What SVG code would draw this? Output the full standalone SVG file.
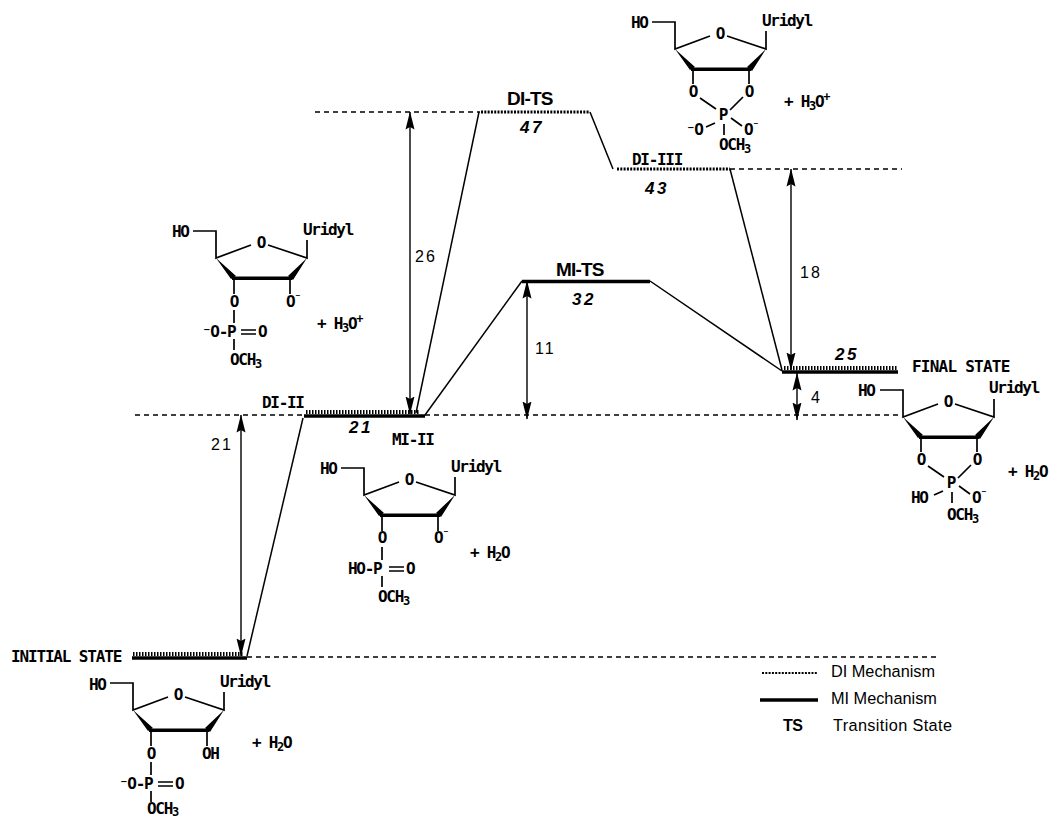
<svg xmlns="http://www.w3.org/2000/svg" width="1051" height="819" viewBox="0 0 1051 819">
<style>
text{font-family:"DejaVu Sans Mono","Liberation Mono",monospace;font-weight:700;font-size:16px;letter-spacing:-1.3px;fill:#000}
.ctr{text-anchor:middle}
.sub{font-size:12px}
.num{font-family:"Liberation Sans",Arial,sans-serif;font-weight:400;font-size:16px;letter-spacing:2px}
.en{font-family:"Liberation Sans",Arial,sans-serif;font-weight:700;font-style:italic;font-size:17px;letter-spacing:2.5px}
.ts{font-family:"Liberation Sans",Arial,sans-serif;font-weight:700;font-size:19px;letter-spacing:-.8px}
.lg{font-family:"Liberation Sans",Arial,sans-serif;font-weight:400;font-size:16.300px;letter-spacing:0}
.lgb{font-family:"Liberation Sans",Arial,sans-serif;font-weight:700;font-size:16px;letter-spacing:-.6px}
.dash{fill:none;stroke:#000;stroke-width:1.3;stroke-dasharray:5 4}
.dot{fill:none;stroke:#000;stroke-width:3;stroke-dasharray:2 1.3}
.thick{fill:none;stroke:#000;stroke-width:3.5}
.hatch{fill:none;stroke:#000;stroke-width:4;stroke-dasharray:1.5 1.5}
.thin{fill:none;stroke:#000;stroke-width:1.5}
.bond{fill:none;stroke:#000;stroke-width:1.7}
.arr{fill:none;stroke:#000;stroke-width:1.4;marker-start:url(#ah);marker-end:url(#ah)}
</style>
<defs>
<marker id="ah" viewBox="0 0 18 10" refX="17.500" refY="5" markerWidth="18" markerHeight="10" markerUnits="userSpaceOnUse" orient="auto-start-reverse">
<path d="M0,0.5 L18,5 L0,9.5 L2.500,5 Z" fill="#000"/>
</marker>
<g id="ring">
<path class="bond" d="M-23,-27 H0 V0 L35,-13 M52,-13 L91,0 V-18"/>
<path d="M0,0 L15,21 L20,18 Z M91,0 L72,18 L77,22 Z" fill="#000"/>
<path d="M16,18.500 H76 V22 H16 Z" fill="#000"/>
</g>
<g id="phos">
<path class="bond" d="M18,20 V36 M18,52 V65 M18,81 V92"/>
<path class="bond" d="M25,72 H40 M25,76 H40"/>
</g>
<g id="cyc">
<path class="bond" d="M18,20 V35 M74,20 V35 M25,49 L41,60 M68,48 L55,61 M40,74 L31,78 M56,69 L67,77 M49,75 V86"/>
</g>
</defs>

<g id="connectors">
<path class="dash" d="M315,112 H480"/>
<path class="dash" d="M730,169 H902"/>
<path class="dash" d="M135,415 H305 M425,415 H900"/>
<path class="dash" d="M247,657 H937"/>
<path class="thin" d="M479,112 L416,413"/>
<path class="thin" d="M590,112 L613,169"/>
<path class="thin" d="M730,169 L782,370"/>
<path class="thin" d="M522,281 L425,415"/>
<path class="thin" d="M650,281 L782,371"/>
<path class="thin" d="M303,418 L247,656"/>
<path class="arr" d="M410,112 V414"/>
<path class="arr" d="M527,281 V419"/>
<path class="arr" d="M791,169 V370"/>
<path class="arr" d="M797,373 V420"/>
<path class="arr" d="M241,415 V656"/>
</g>

<g id="level-initial">
<path class="thick" d="M132,658 H247"/><path class="hatch" d="M133,654 H244"/>
<text x="11" y="662" textLength="110" lengthAdjust="spacing">INITIAL STATE</text>
</g>
<g id="level-21">
<path class="thick" d="M304,416 H425"/><path class="hatch" d="M306,412 H420"/>
<text x="262" y="408">DI-II</text>
<text class="en" x="349" y="433">21</text>
<text x="392" y="445">MI-II</text>
</g>
<g id="level-di-ts">
<path class="dot" d="M481,112 H590"/>
<text class="ts" x="507" y="105">DI-TS</text>
<text class="en" x="520" y="133">47</text>
</g>
<g id="level-di-iii">
<path class="dot" d="M617,169 H730"/>
<text x="632" y="165">DI-III</text>
<text class="en" x="645" y="194">43</text>
</g>
<g id="level-mi-ts">
<path class="thick" d="M522,281.500 H650"/>
<text class="ts" x="556" y="276">MI-TS</text>
<text class="en" x="572" y="305">32</text>
</g>
<g id="level-final">
<path class="thick" d="M782,372 H898"/><path class="hatch" d="M784,368 H898"/>
<text class="en" x="835" y="360">25</text>
<text x="912" y="372" textLength="97" lengthAdjust="spacing">FINAL STATE</text>
</g>

<g id="value-26"><text class="num" x="415" y="262">26</text></g>
<g id="value-11"><text class="num" x="535" y="354">11</text></g>
<g id="value-18"><text class="num" x="800" y="278">18</text></g>
<g id="value-4"><text class="num" x="811" y="403">4</text></g>
<g id="value-21"><text class="num" x="211" y="450">21</text></g>

<g id="mol-initial" transform="translate(133,710)">
<use href="#ring"/><use href="#phos"/>
<path class="bond" d="M74,20 V36"/>
<text x="-44" y="-20">HO</text><text x="87" y="-23">Uridyl</text><text class="ctr" x="45" y="-10">O</text>
<text class="ctr" x="18" y="49">O</text><text x="69" y="49">OH</text>
<text x="-14" y="79">⁻O-P</text><text x="42" y="79">O</text>
<text x="14" y="104">OCH<tspan class="sub" dy="2">3</tspan></text>
<text x="119" y="38">+ H<tspan class="sub" dy="3">2</tspan><tspan dy="-3">O</tspan></text>
</g>

<g id="mol-di-ii" transform="translate(216,258)">
<use href="#ring"/><use href="#phos"/>
<path class="bond" d="M74,20 V36"/>
<text x="-44" y="-21">HO</text><text x="87" y="-23">Uridyl</text><text class="ctr" x="45" y="-10">O</text>
<text class="ctr" x="18" y="49">O</text><text x="70" y="49">O<tspan class="sub" dy="-5">⁻</tspan></text>
<text x="-14" y="79">⁻O-P</text><text x="42" y="79">O</text>
<text x="14" y="107">OCH<tspan class="sub" dy="3">3</tspan></text>
<text x="101" y="71">+ H<tspan class="sub" dy="3">3</tspan><tspan dy="-3">O</tspan><tspan class="sub" dy="-6">+</tspan></text>
</g>

<g id="mol-mi-ii" transform="translate(364,495)">
<use href="#ring"/><use href="#phos"/>
<path class="bond" d="M74,20 V36"/>
<text x="-44" y="-21">HO</text><text x="87" y="-23">Uridyl</text><text class="ctr" x="45" y="-10">O</text>
<text class="ctr" x="18" y="48">O</text><text x="70" y="48">O<tspan class="sub" dy="-5">⁻</tspan></text>
<text x="-16" y="79">HO-P</text><text x="42" y="79">O</text>
<text x="14" y="107">OCH<tspan class="sub" dy="3">3</tspan></text>
<text x="106" y="63">+ H<tspan class="sub" dy="3">2</tspan><tspan dy="-3">O</tspan></text>
</g>

<g id="mol-di-iii" transform="translate(675,49)">
<use href="#ring"/><use href="#cyc"/>
<text x="-44" y="-21">HO</text><text x="87" y="-23">Uridyl</text><text class="ctr" x="45" y="-10">O</text>
<text class="ctr" x="18" y="48">O</text><text class="ctr" x="74" y="48">O</text>
<text class="ctr" x="48" y="71">P</text>
<text x="11" y="86">⁻O</text><text x="69" y="86">O<tspan class="sub" dy="-5">⁻</tspan></text>
<text x="44" y="101">OCH<tspan class="sub" dy="3">3</tspan></text>
<text x="109" y="58">+ H<tspan class="sub" dy="3">3</tspan><tspan dy="-3">O</tspan><tspan class="sub" dy="-6">+</tspan></text>
</g>

<g id="mol-final" transform="translate(903,417)">
<use href="#ring"/><use href="#cyc"/>
<text x="-45" y="-21">HO</text><text x="86" y="-24">Uridyl</text><text class="ctr" x="45" y="-10">O</text>
<text class="ctr" x="18" y="48">O</text><text class="ctr" x="74" y="48">O</text>
<text class="ctr" x="48" y="71">P</text>
<text x="8" y="86">HO</text><text x="69" y="86">O<tspan class="sub" dy="-5">⁻</tspan></text>
<text x="44" y="103">OCH<tspan class="sub" dy="3">3</tspan></text>
<text x="105" y="60">+ H<tspan class="sub" dy="3">2</tspan><tspan dy="-3">O</tspan></text>
</g>

<g id="legend">
<path class="dot" d="M762,673 H817" style="stroke-width:2"/>
<path class="thick" d="M760,700 H818"/>
<text class="lg" x="831" y="677">DI Mechanism</text>
<text class="lg" x="831" y="704">MI Mechanism</text>
<text class="lgb" x="783" y="731">TS</text>
<text class="lg" x="833" y="731" textLength="119" lengthAdjust="spacing">Transition State</text>
</g>
</svg>
